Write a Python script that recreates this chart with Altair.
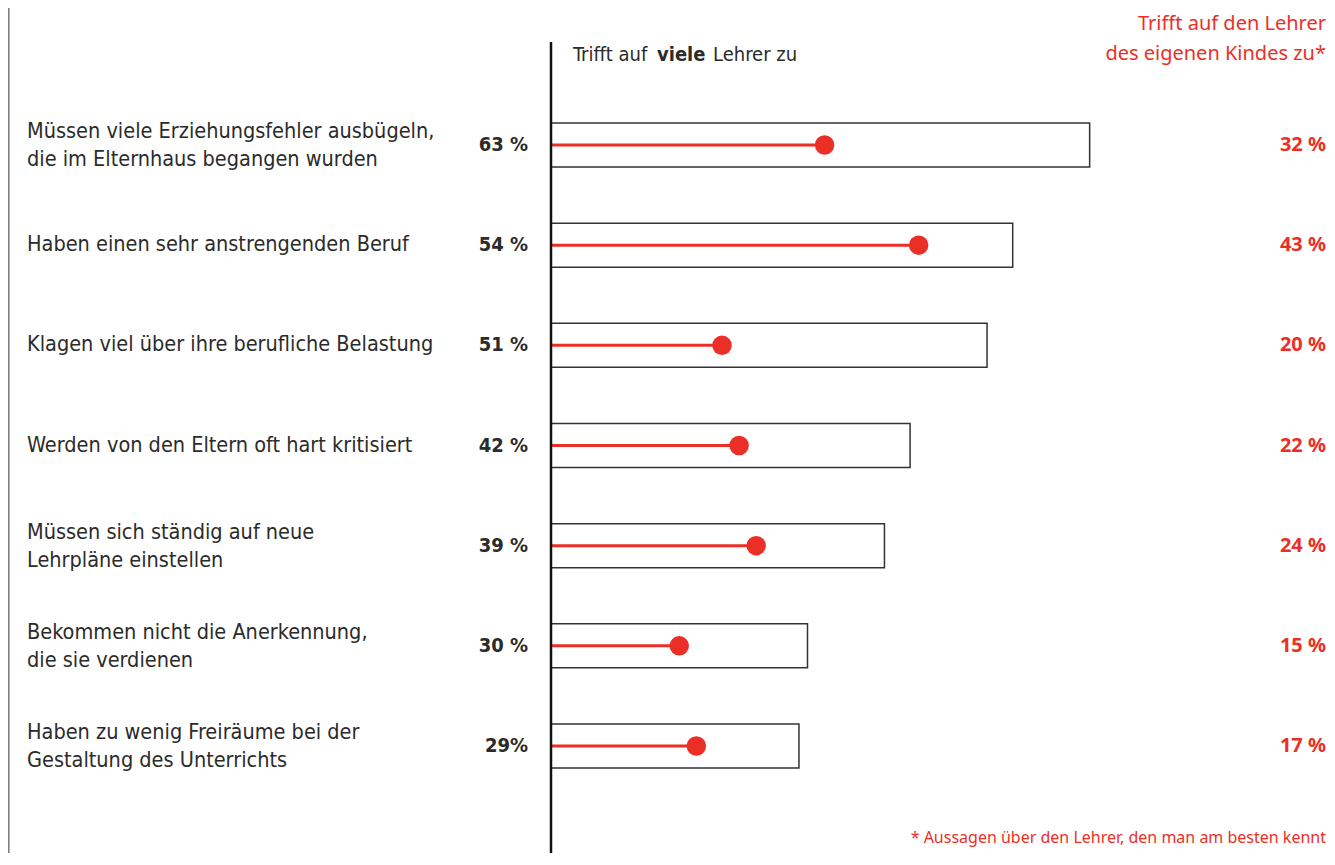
import altair as alt
import pandas as pd

categories = [
    "Müssen viele Erziehungsfehler ausbügeln,\ndie im Elternhaus begangen wurden",
    "Haben einen sehr anstrengenden Beruf",
    "Klagen viel über ihre berufliche Belastung",
    "Werden von den Eltern oft hart kritisiert",
    "Müssen sich ständig auf neue\nLehrpläne einstellen",
    "Bekommen nicht die Anerkennung,\ndie sie verdienen",
    "Haben zu wenig Freiräume bei der\nGestaltung des Unterrichts",
]
viele = [63, 54, 51, 42, 39, 30, 29]
eigen = [32, 43, 20, 22, 24, 15, 17]
viele_labels = ["63 %", "54 %", "51 %", "42 %", "39 %", "30 %", "29%"]
eigen_labels = ["32 %", "43 %", "20 %", "22 %", "24 %", "15 %", "17 %"]

header_left = ["Trifft auf", "viele", "Lehrer zu"]
header_right = "Trifft auf den Lehrer\ndes eigenen Kindes zu*"
footnote = "* Aussagen über den Lehrer, den man am besten kennt"

RED = "#ec2f26"
DARK = "#2b2b2b"
COND = "DejaVu Sans Condensed, Liberation Sans Narrow, Roboto, sans-serif"
REG = "Noto Sans, Open Sans, sans-serif"

df = pd.DataFrame({
    "cat": categories,
    "viele": viele,
    "eigen": eigen,
    "vl": viele_labels,
    "el": eigen_labels,
})
one = pd.DataFrame({"k": [0]})

xscale = alt.Scale(domain=[0, 90.76], nice=False, zero=True)
x_enc = alt.X("viele:Q", scale=xscale, axis=None)
x_eig = alt.X("eigen:Q", scale=xscale, axis=None)
y_enc = alt.Y("cat:N", sort=categories,
              scale=alt.Scale(domain=categories, range=[86.9, 788.1], paddingInner=0, paddingOuter=0),
              axis=None)

base = alt.Chart(df)

bars = base.mark_bar(size=44, fill="white", stroke="#333333", strokeWidth=1.5).encode(x=x_enc, y=y_enc)

lines = base.mark_rule(color=RED, strokeWidth=3).encode(x=x_eig, x2=alt.value(0), y=y_enc)

dots = base.mark_circle(size=380, color=RED, opacity=1).encode(x=x_eig, y=y_enc)

multi = "indexof(datum.cat, '\\n') >= 0"
cat_text1 = base.transform_filter("!(" + multi + ")").mark_text(
    align="left", baseline="middle", lineBreak="\n", font=COND,
    fontSize=21.5, color=DARK, lineHeight=28).encode(
    x=alt.value(-524), y=y_enc, text="cat:N")
cat_text2 = base.transform_filter(multi).mark_text(
    align="left", baseline="middle", lineBreak="\n", font=COND,
    fontSize=21.5, color=DARK, lineHeight=28, dy=-13).encode(
    x=alt.value(-524), y=y_enc, text="cat:N")

viele_text = base.mark_text(align="right", baseline="middle", font=COND, fontSize=20,
                            fontWeight="bold", color=DARK).encode(
    x=alt.value(-23), y=y_enc, text="vl:N")

eigen_text = base.mark_text(align="right", baseline="middle", font=REG, fontSize=20,
                            fontWeight="bold", color=RED).encode(
    x=alt.value(775), y=y_enc, text="el:N")

ann = alt.Chart(one)

axis_line = ann.mark_rule(color="#111111", strokeWidth=2.5).encode(
    x=alt.value(0), y=alt.value(34), y2=alt.value(845))

border_line = ann.mark_rule(color="#777777", strokeWidth=1.5).encode(
    x=alt.value(-542.2), y=alt.value(0), y2=alt.value(845))

hdr1 = ann.mark_text(align="left", baseline="middle", font=COND, fontSize=20,
                     color=DARK).encode(
    x=alt.value(22), y=alt.value(47), text=alt.value(header_left[0]))
hdr2 = ann.mark_text(align="left", baseline="middle", font=COND, fontSize=20,
                     fontWeight="bold", color=DARK).encode(
    x=alt.value(106), y=alt.value(47), text=alt.value(header_left[1]))
hdr3 = ann.mark_text(align="left", baseline="middle", font=COND, fontSize=20,
                     color=DARK).encode(
    x=alt.value(162), y=alt.value(47), text=alt.value(header_left[2]))

rhdr = ann.mark_text(align="right", baseline="middle", font=REG, fontSize=20,
                     fontWeight="normal", color=RED, lineBreak="\n", lineHeight=30).encode(
    x=alt.value(775), y=alt.value(16), text=alt.value(header_right))

foot = ann.mark_text(align="right", baseline="middle", font=REG, fontSize=16,
                     fontWeight="normal", color=RED).encode(
    x=alt.value(775), y=alt.value(830), text=alt.value(footnote))

chart = alt.layer(
    border_line, bars, lines, dots, axis_line, cat_text1, cat_text2, viele_text, eigen_text,
    hdr1, hdr2, hdr3, rhdr, foot
).properties(
    width=776, height=845,
    padding={"left": 543, "top": 0, "right": 0, "bottom": 0},
    autosize=alt.AutoSizeParams(type="none"),
    background="white",
).configure_view(strokeWidth=0, stroke="transparent")

chart.save("out.html", embed_options={"renderer": "svg", "actions": False})
